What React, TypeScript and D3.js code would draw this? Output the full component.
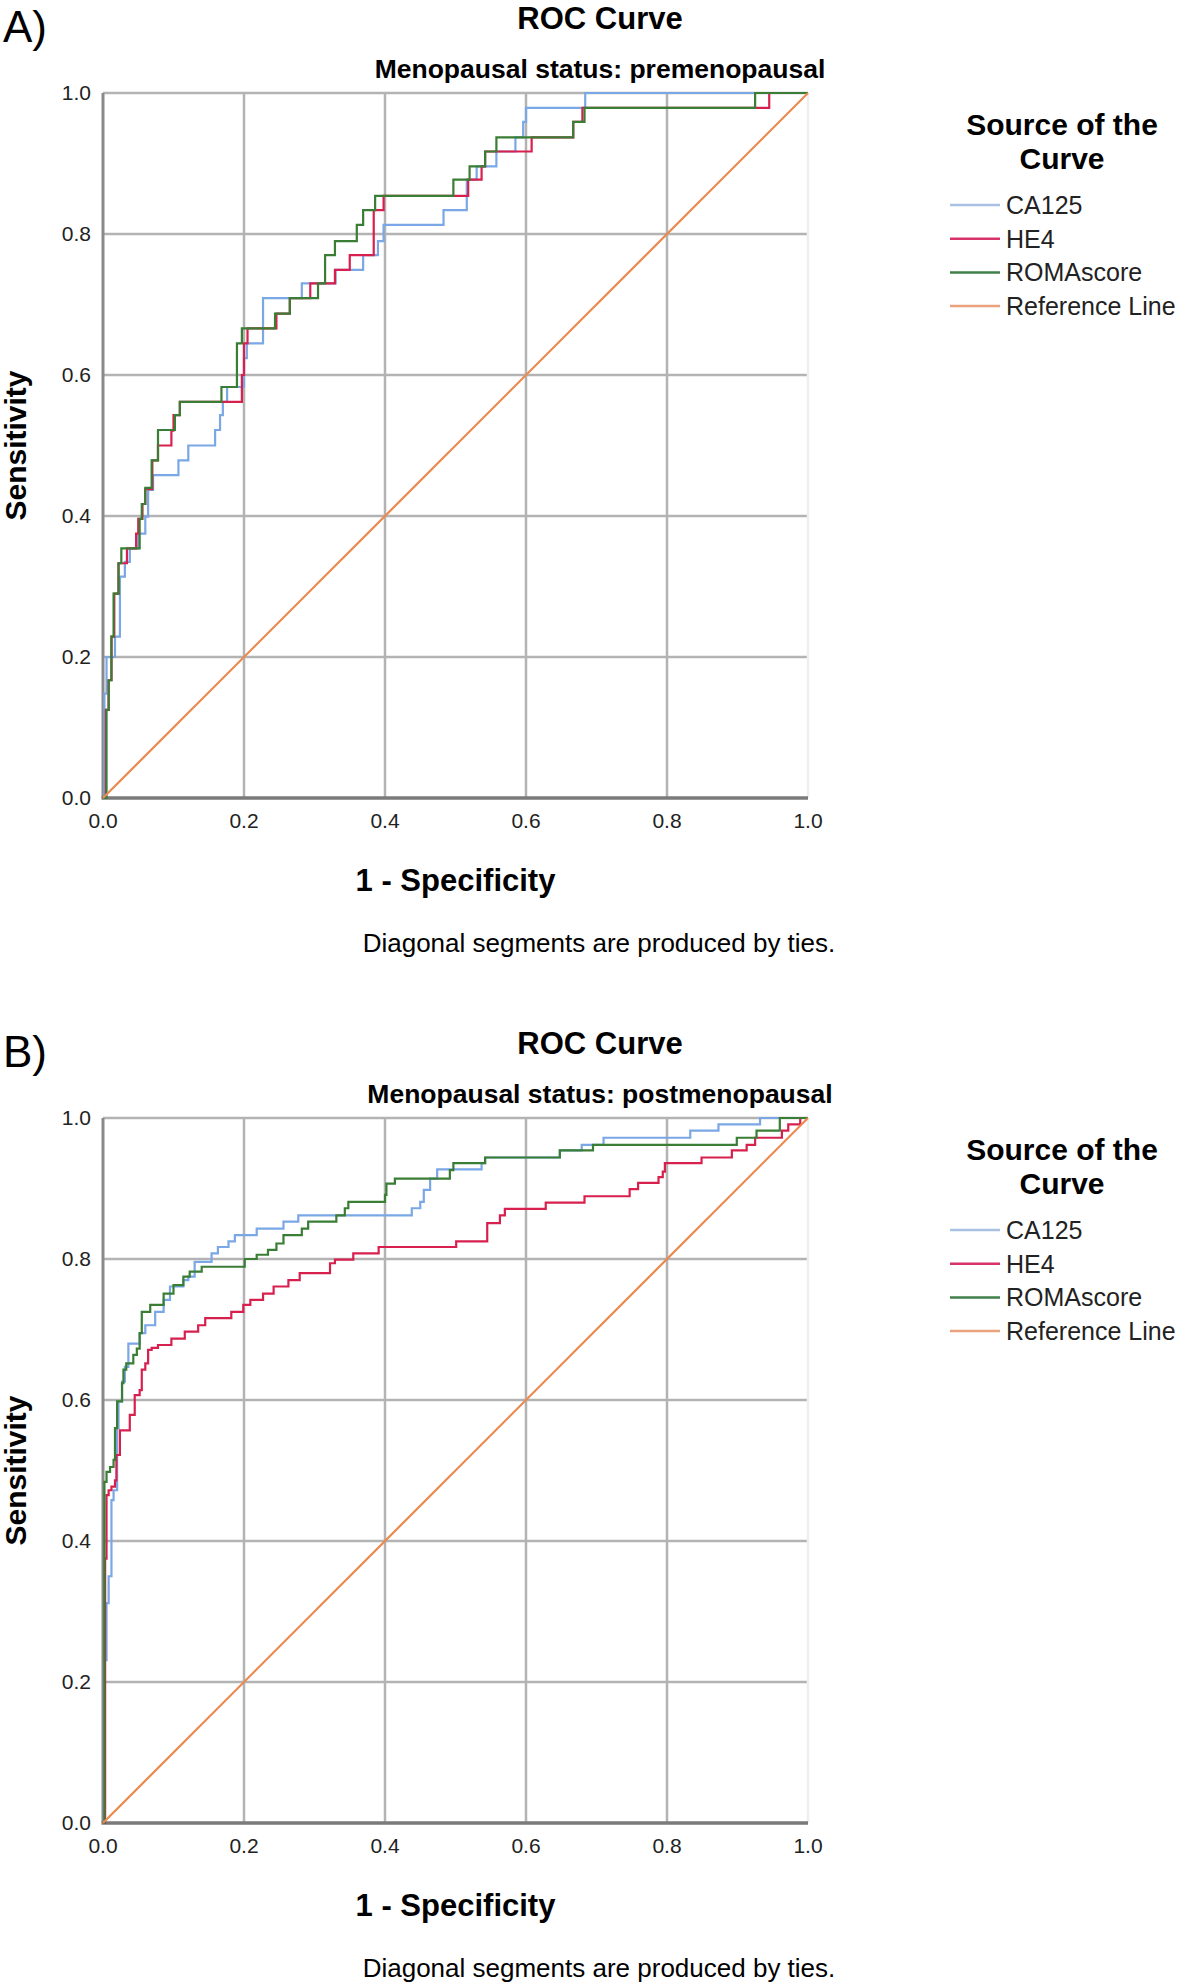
import React, { useRef, useEffect } from 'react';
import * as d3 from 'd3';

type Pt = [number, number];

// ROC points: [1 - specificity, sensitivity]
const preCA125: Pt[] = [
  [0, 0], [0.002, 0], [0.002, 0.148], [0.005, 0.148], [0.005, 0.2], [0.017, 0.2], [0.017, 0.229],
  [0.024, 0.229], [0.024, 0.314], [0.031, 0.314], [0.031, 0.335], [0.038, 0.335], [0.038, 0.354],
  [0.05, 0.354], [0.05, 0.375], [0.06, 0.375], [0.06, 0.399], [0.064, 0.399], [0.064, 0.437],
  [0.071, 0.437], [0.071, 0.458], [0.107, 0.458], [0.107, 0.479], [0.121, 0.479], [0.121, 0.5],
  [0.159, 0.5], [0.159, 0.522], [0.166, 0.522], [0.166, 0.543], [0.17, 0.543], [0.17, 0.562],
  [0.176, 0.562], [0.176, 0.583], [0.2, 0.583], [0.2, 0.624], [0.204, 0.624], [0.204, 0.645],
  [0.227, 0.645], [0.227, 0.709], [0.282, 0.709], [0.282, 0.73], [0.33, 0.73], [0.33, 0.749],
  [0.369, 0.749], [0.369, 0.77], [0.39, 0.77], [0.39, 0.79], [0.398, 0.79], [0.398, 0.813],
  [0.483, 0.813], [0.483, 0.834], [0.516, 0.834], [0.516, 0.877], [0.53, 0.877], [0.53, 0.896],
  [0.558, 0.896], [0.558, 0.917], [0.585, 0.917], [0.585, 0.937], [0.596, 0.937], [0.596, 0.959],
  [0.6, 0.959], [0.6, 0.979], [0.684, 0.979], [0.684, 1], [1, 1]
];

const preHE4: Pt[] = [
  [0, 0], [0.004, 0], [0.004, 0.125], [0.008, 0.125], [0.008, 0.167], [0.012, 0.167], [0.012, 0.229],
  [0.016, 0.229], [0.016, 0.29], [0.022, 0.29], [0.022, 0.333], [0.034, 0.333], [0.034, 0.354],
  [0.047, 0.354], [0.047, 0.375], [0.05, 0.375], [0.05, 0.396], [0.056, 0.396], [0.056, 0.417],
  [0.06, 0.417], [0.06, 0.438], [0.07, 0.438], [0.07, 0.479], [0.078, 0.479], [0.078, 0.5],
  [0.097, 0.5], [0.097, 0.521], [0.1, 0.521], [0.1, 0.543], [0.109, 0.543], [0.109, 0.562],
  [0.197, 0.562], [0.197, 0.6], [0.2, 0.6], [0.2, 0.645], [0.205, 0.645], [0.205, 0.666],
  [0.246, 0.666], [0.246, 0.687], [0.265, 0.687], [0.265, 0.709], [0.294, 0.709], [0.294, 0.73],
  [0.329, 0.73], [0.329, 0.749], [0.35, 0.749], [0.35, 0.77], [0.384, 0.77], [0.384, 0.834],
  [0.398, 0.834], [0.398, 0.854], [0.518, 0.854], [0.518, 0.877], [0.537, 0.877], [0.537, 0.896],
  [0.542, 0.896], [0.542, 0.917], [0.608, 0.917], [0.608, 0.937], [0.667, 0.937], [0.667, 0.959],
  [0.68, 0.959], [0.68, 0.979], [0.945, 0.979], [0.945, 1], [1, 1]
];

const preROMA: Pt[] = [
  [0, 0], [0.005, 0], [0.005, 0.125], [0.008, 0.125], [0.008, 0.167], [0.012, 0.167], [0.012, 0.229],
  [0.015, 0.229], [0.015, 0.29], [0.022, 0.29], [0.022, 0.333], [0.026, 0.333], [0.026, 0.354],
  [0.052, 0.354], [0.052, 0.396], [0.055, 0.396], [0.055, 0.417], [0.06, 0.417], [0.06, 0.44],
  [0.069, 0.44], [0.069, 0.479], [0.078, 0.479], [0.078, 0.522], [0.102, 0.522], [0.102, 0.543],
  [0.109, 0.543], [0.109, 0.562], [0.168, 0.562], [0.168, 0.583], [0.19, 0.583], [0.19, 0.645],
  [0.197, 0.645], [0.197, 0.666], [0.244, 0.666], [0.244, 0.687], [0.265, 0.687], [0.265, 0.709],
  [0.305, 0.709], [0.305, 0.73], [0.315, 0.73], [0.315, 0.77], [0.329, 0.77], [0.329, 0.79],
  [0.36, 0.79], [0.36, 0.813], [0.369, 0.813], [0.369, 0.834], [0.386, 0.834], [0.386, 0.854],
  [0.497, 0.854], [0.497, 0.877], [0.52, 0.877], [0.52, 0.896], [0.542, 0.896], [0.542, 0.917],
  [0.558, 0.917], [0.558, 0.937], [0.667, 0.937], [0.667, 0.959], [0.683, 0.959], [0.683, 0.979],
  [0.925, 0.979], [0.925, 1], [1, 1]
];

const postCA125: Pt[] = [
  [0, 0], [0.002, 0], [0.002, 0.231], [0.005, 0.231], [0.005, 0.312], [0.008, 0.312], [0.008, 0.35],
  [0.012, 0.35], [0.012, 0.458], [0.015, 0.458], [0.015, 0.472], [0.02, 0.472], [0.02, 0.56],
  [0.022, 0.56], [0.022, 0.598], [0.027, 0.598], [0.027, 0.626], [0.031, 0.626], [0.031, 0.647],
  [0.036, 0.647], [0.036, 0.68], [0.052, 0.68], [0.052, 0.695], [0.06, 0.695], [0.06, 0.706],
  [0.074, 0.706], [0.074, 0.725], [0.086, 0.725], [0.086, 0.742], [0.095, 0.742], [0.095, 0.761],
  [0.114, 0.761], [0.114, 0.77], [0.121, 0.77], [0.121, 0.775], [0.13, 0.775], [0.13, 0.796],
  [0.154, 0.796], [0.154, 0.808], [0.163, 0.808], [0.163, 0.817], [0.178, 0.817], [0.178, 0.825],
  [0.187, 0.825], [0.187, 0.834], [0.218, 0.834], [0.218, 0.843], [0.256, 0.843], [0.256, 0.853],
  [0.277, 0.853], [0.277, 0.862], [0.438, 0.862], [0.438, 0.872], [0.45, 0.872], [0.45, 0.881],
  [0.455, 0.881], [0.455, 0.898], [0.464, 0.898], [0.464, 0.914], [0.474, 0.914], [0.474, 0.927],
  [0.537, 0.927], [0.537, 0.936], [0.542, 0.936], [0.542, 0.944], [0.648, 0.944], [0.648, 0.954],
  [0.679, 0.954], [0.679, 0.962], [0.71, 0.962], [0.71, 0.972], [0.833, 0.972], [0.833, 0.982],
  [0.873, 0.982], [0.873, 0.991], [0.932, 0.991], [0.932, 1], [1, 1]
];

const postHE4: Pt[] = [
  [0, 0], [0.003, 0], [0.003, 0.375], [0.005, 0.375], [0.005, 0.465], [0.008, 0.465], [0.008, 0.472],
  [0.012, 0.472], [0.012, 0.477], [0.017, 0.477], [0.017, 0.486], [0.019, 0.486], [0.019, 0.522],
  [0.024, 0.522], [0.024, 0.557], [0.038, 0.557], [0.038, 0.579], [0.045, 0.579], [0.045, 0.607],
  [0.052, 0.607], [0.052, 0.614], [0.055, 0.614], [0.055, 0.643], [0.06, 0.643], [0.06, 0.652],
  [0.064, 0.652], [0.064, 0.671], [0.069, 0.671], [0.069, 0.674], [0.078, 0.674], [0.078, 0.678],
  [0.097, 0.678], [0.097, 0.687], [0.116, 0.687], [0.116, 0.697], [0.135, 0.697], [0.135, 0.706],
  [0.145, 0.706], [0.145, 0.716], [0.182, 0.716], [0.182, 0.725], [0.199, 0.725], [0.199, 0.735],
  [0.209, 0.735], [0.209, 0.742], [0.227, 0.742], [0.227, 0.751], [0.242, 0.751], [0.242, 0.761],
  [0.263, 0.761], [0.263, 0.77], [0.279, 0.77], [0.279, 0.78], [0.322, 0.78], [0.322, 0.794],
  [0.329, 0.794], [0.329, 0.799], [0.355, 0.799], [0.355, 0.808], [0.391, 0.808], [0.391, 0.817],
  [0.501, 0.817], [0.501, 0.825], [0.545, 0.825], [0.545, 0.851], [0.563, 0.851], [0.563, 0.862],
  [0.57, 0.862], [0.57, 0.871], [0.628, 0.871], [0.628, 0.88], [0.683, 0.88], [0.683, 0.889],
  [0.747, 0.889], [0.747, 0.899], [0.759, 0.899], [0.759, 0.908], [0.788, 0.908], [0.788, 0.916],
  [0.794, 0.916], [0.794, 0.924], [0.797, 0.924], [0.797, 0.936], [0.849, 0.936], [0.849, 0.944],
  [0.892, 0.944], [0.892, 0.954], [0.913, 0.954], [0.913, 0.962], [0.925, 0.962], [0.925, 0.972],
  [0.963, 0.972], [0.963, 0.982], [0.972, 0.982], [0.972, 0.991], [0.989, 0.991], [0.989, 1], [1, 1]
];

const postROMA: Pt[] = [
  [0, 0], [0.002, 0], [0.002, 0.484], [0.005, 0.484], [0.005, 0.498], [0.01, 0.498], [0.01, 0.505],
  [0.015, 0.505], [0.015, 0.515], [0.017, 0.515], [0.017, 0.56], [0.02, 0.56], [0.02, 0.598],
  [0.027, 0.598], [0.027, 0.624], [0.029, 0.624], [0.029, 0.643], [0.033, 0.643], [0.033, 0.652],
  [0.043, 0.652], [0.043, 0.664], [0.048, 0.664], [0.048, 0.673], [0.052, 0.673], [0.052, 0.695],
  [0.055, 0.695], [0.055, 0.725], [0.067, 0.725], [0.067, 0.735], [0.086, 0.735], [0.086, 0.751],
  [0.1, 0.751], [0.1, 0.763], [0.114, 0.763], [0.114, 0.775], [0.123, 0.775], [0.123, 0.782],
  [0.14, 0.782], [0.14, 0.789], [0.201, 0.789], [0.201, 0.8], [0.218, 0.8], [0.218, 0.806],
  [0.234, 0.806], [0.234, 0.813], [0.246, 0.813], [0.246, 0.822], [0.256, 0.822], [0.256, 0.834],
  [0.282, 0.834], [0.282, 0.843], [0.291, 0.843], [0.291, 0.853], [0.331, 0.853], [0.331, 0.862],
  [0.343, 0.862], [0.343, 0.872], [0.348, 0.872], [0.348, 0.881], [0.4, 0.881], [0.4, 0.891],
  [0.402, 0.891], [0.402, 0.907], [0.414, 0.907], [0.414, 0.914], [0.492, 0.914], [0.492, 0.926],
  [0.497, 0.926], [0.497, 0.936], [0.542, 0.936], [0.542, 0.944], [0.648, 0.944], [0.648, 0.954],
  [0.695, 0.954], [0.695, 0.962], [0.899, 0.962], [0.899, 0.972], [0.927, 0.972], [0.927, 0.982],
  [0.96, 0.982], [0.96, 1], [1, 1]
];

const refLine: Pt[] = [[0, 0], [1, 1]];

const seriesNames = ['CA125', 'HE4', 'ROMAscore', 'Reference Line'];
const seriesColors = ['#7aa7e6', '#d8204f', '#3a7d34', '#eb8a50'];
const legendColors = ['#a9c1e3', '#d8326a', '#3f7f4a', '#eaa27c'];
const ticks = [0, 0.2, 0.4, 0.6, 0.8, 1.0];

const panels = [
  { letter: 'A)', subtitle: 'Menopausal status: premenopausal', curves: [preCA125, preHE4, preROMA, refLine] },
  { letter: 'B)', subtitle: 'Menopausal status: postmenopausal', curves: [postCA125, postHE4, postROMA, refLine] }
];

const FONT = '"Liberation Sans", Arial, sans-serif';

const App: React.FC = () => {
  const ref = useRef<SVGSVGElement | null>(null);

  useEffect(() => {
    const svg = d3.select(ref.current);
    svg.selectAll('*').remove();
    svg.attr('width', 1180).attr('height', 1988).style('font-family', FONT);
    svg.append('rect').attr('width', 1180).attr('height', 1988).attr('fill', 'white');

    panels.forEach((p, i) => {
      const g = svg.append('g').attr('transform', `translate(0,${i * 1025})`);
      const x = d3.scaleLinear().domain([0, 1]).range([103, 808]);
      const y = d3.scaleLinear().domain([0, 1]).range([798, 93]);

      g.append('text').attr('x', 3).attr('y', 42).attr('font-size', 44).text(p.letter);
      g.append('text').attr('x', 600).attr('y', 29).attr('text-anchor', 'middle')
        .attr('font-size', 31).attr('font-weight', 'bold').text('ROC Curve');
      g.append('text').attr('x', 600).attr('y', 78).attr('text-anchor', 'middle')
        .attr('font-size', 26.5).attr('font-weight', 'bold').text(p.subtitle);

      // grid
      ticks.filter((t) => t > 0).forEach((t) => {
        g.append('line').attr('x1', x(0)).attr('x2', x(1)).attr('y1', y(t)).attr('y2', y(t))
          .attr('stroke', '#b3b3b3').attr('stroke-width', 2.5);
        g.append('line').attr('x1', x(t)).attr('x2', x(t)).attr('y1', y(0)).attr('y2', y(1))
          .attr('stroke', t === 1 ? '#eeeeee' : '#b3b3b3').attr('stroke-width', 2.5);
      });
      g.append('line').attr('x1', x(0)).attr('x2', x(0)).attr('y1', y(0)).attr('y2', y(1))
        .attr('stroke', '#8a8a8a').attr('stroke-width', 3);
      g.append('line').attr('x1', x(0) - 1.5).attr('x2', x(1)).attr('y1', y(0)).attr('y2', y(0))
        .attr('stroke', '#7a7a7a').attr('stroke-width', 3.5);

      // tick labels
      ticks.forEach((t) => {
        g.append('text').attr('x', 91).attr('y', y(t) + 7).attr('text-anchor', 'end')
          .attr('font-size', 21).attr('fill', '#222').text(d3.format('.1f')(t));
        g.append('text').attr('x', x(t)).attr('y', 828).attr('text-anchor', 'middle')
          .attr('font-size', 21).attr('fill', '#222').text(d3.format('.1f')(t));
      });

      g.append('text').attr('transform', `translate(26,${(y(0) + y(1)) / 2}) rotate(-90)`)
        .attr('text-anchor', 'middle').attr('font-size', 30).attr('font-weight', 'bold').text('Sensitivity');
      g.append('text').attr('x', (x(0) + x(1)) / 2).attr('y', 891).attr('text-anchor', 'middle')
        .attr('font-size', 31).attr('font-weight', 'bold').text('1 - Specificity');
      g.append('text').attr('x', 599).attr('y', 952).attr('text-anchor', 'middle')
        .attr('font-size', 26).text('Diagonal segments are produced by ties.');

      const line = d3.line<Pt>().x((d) => x(d[0])).y((d) => y(d[1]));
      p.curves.forEach((c, k) => {
        g.append('path').datum(c).attr('fill', 'none').attr('stroke', seriesColors[k])
          .attr('stroke-width', 2.2).attr('d', line as any);
      });

      // legend
      const lg = g.append('g');
      lg.append('text').attr('x', 1062).attr('y', 135).attr('text-anchor', 'middle')
        .attr('font-size', 30).attr('font-weight', 'bold').text('Source of the');
      lg.append('text').attr('x', 1062).attr('y', 169).attr('text-anchor', 'middle')
        .attr('font-size', 30).attr('font-weight', 'bold').text('Curve');
      seriesNames.forEach((name, k) => {
        const cy = 205 + k * 33.7;
        lg.append('line').attr('x1', 950).attr('x2', 1000).attr('y1', cy).attr('y2', cy)
          .attr('stroke', legendColors[k]).attr('stroke-width', 2.5);
        lg.append('text').attr('x', 1006).attr('y', cy + 9).attr('font-size', 25).attr('fill', '#222').text(name);
      });
    });
  }, []);

  return (
    <div style={{ position: 'absolute', left: 0, top: 0 }}>
      <svg ref={ref} style={{ display: 'block' }} />
    </div>
  );
};

export default App;
